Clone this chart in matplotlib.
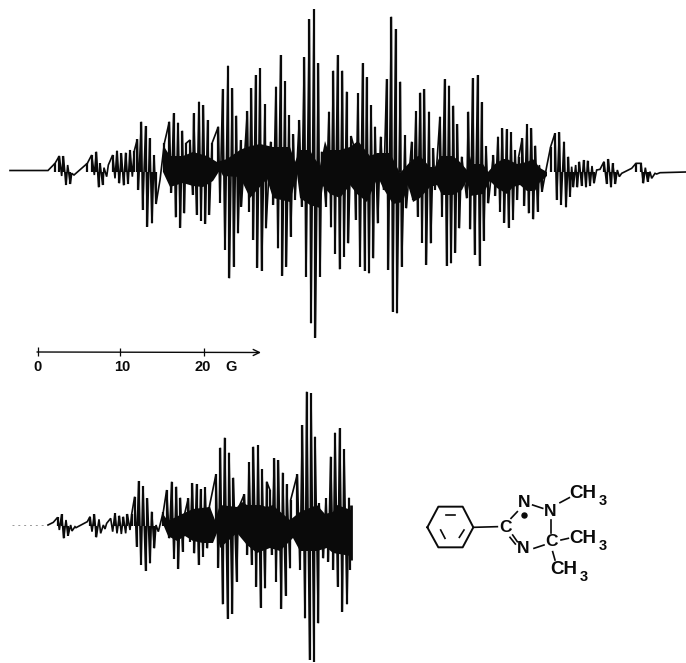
import numpy as np
import matplotlib
matplotlib.use("Agg")
import matplotlib.pyplot as plt

# Readings are in 3x crop coordinates of the traces
UL_TOP_X = [165,178,190,203,215,262,275,289,300,312,325,338,351,364,377,390,403,412,424,437,449,462,493,508,521,534,547,558,570,581,597,610,623,636,655,668,684,697,709,722,742,754,767,780,795,812,828,842,855,867,880,898,913,928,942,955,965,987,1000,1013,1027]
UL_TOP_Y = [490,468,468,495,520,490,465,455,490,503,495,465,452,460,458,450,452,418,365,378,415,465,430,365,340,368,392,430,420,340,305,315,360,430,380,267,197,265,347,420,333,265,225,205,313,425,260,165,243,345,403,360,172,58,28,190,455,335,212,165,212]
UL_BOT_X = [185,198,211,222,283,296,308,320,345,358,371,384,397,415,428,442,456,468,480,514,527,541,553,578,590,603,616,628,660,675,688,701,714,724,747,760,772,785,798,820,834,847,859,872,885,905,918,933,946,960,978,993,1005,1019,1032]
UL_BOT_Y = [528,555,552,525,525,562,555,530,535,550,556,552,530,570,630,680,670,612,540,578,652,683,640,585,645,662,672,645,608,750,835,800,700,620,635,720,803,813,685,615,745,827,800,710,600,620,830,970,1013,830,620,682,762,808,770]

UR_TOP_X = [7,20,33,42,54,68,80,93,105,122,140,154,167,181,195,215,228,241,253,267,280,300,314,327,340,352,365,385,398,413,425,438,460,474,487,500,513,525,536,547,561,574,586,598,620,632,645,658,672,685,695,707,718,731,743,756,770,780,792,805,818,832,845,875,888,903,916,930,945]
UR_TOP_Y = [212,275,408,440,280,190,232,316,380,410,237,50,87,245,405,425,333,278,267,335,445,350,238,257,317,372,470,335,235,225,307,438,465,410,385,388,397,450,470,415,372,385,437,495,500,440,400,397,425,470,500,495,485,480,482,498,510,508,485,477,490,510,520,505,490,490,503,515,520]
UR_BOT_X = [0,12,25,47,60,74,87,100,113,131,145,158,171,185,199,220,233,246,259,272,285,306,320,333,346,358,380,391,404,419,431,445,466,480,493,506,519,532,553,566,580,593,606,650,663,678,690,700,712,725,738,750,762,800,813,826,838,910,923,935,950]
UR_BOT_Y = [805,770,730,660,800,813,820,775,670,570,810,935,940,800,625,600,650,728,795,730,570,650,798,790,758,685,595,688,765,798,722,610,588,635,668,683,660,600,618,640,658,635,575,600,615,622,590,562,562,558,562,558,550,552,562,552,530,550,545,535,522]

L_TOP_X = [160,173,185,198,212,225,262,270,283,297,310,320,332,345,358,370,382,395,404,416,429,442,455,468,490,500,515,529,541,553,565,577,590,602,615,628,648,661,674,687,700,715,733,747,760,774,786,800,810,823,835,848,860,872,892,907,920,933,945,957,978,992,1005,1019,1032,1047]
L_TOP_Y = [412,397,388,405,420,425,410,395,388,403,420,415,400,385,392,395,387,388,335,288,303,340,380,420,380,315,290,305,338,390,340,294,297,313,307,365,268,188,158,203,278,370,328,232,185,180,252,290,315,220,225,263,298,345,268,120,20,25,155,355,340,215,143,130,192,338]
L_BOT_X = [178,191,204,216,228,276,289,302,315,338,351,364,377,390,410,423,437,450,463,475,508,522,535,548,570,583,596,609,622,655,668,683,697,710,742,755,769,782,795,815,828,844,857,870,900,915,929,942,955,970,985,1000,1013,1027,1041,1050]
L_BOT_Y = [435,460,452,438,428,440,457,445,432,440,445,447,445,435,485,540,558,535,490,440,460,522,552,500,470,505,540,515,490,548,658,702,687,590,510,540,605,668,610,510,590,672,632,550,555,700,825,830,715,520,530,555,605,680,658,555]

# Dense central ink of each trace: upper and lower edge, in image pixels
CORE_U_TOP_X = [163,165,170,183,193,207,217,227,240,247,260,273,290,295,300,310,313,320,325,328,340,350,358,370,377,380,387,390,400,410,418,420,430,435,440,453,460,467,470,472,483,488,495,503,507,517,527,533,540,547]
CORE_U_TOP_Y = [170,148,156,156,152,156,162,159,150,147,144,147,147,162,150,150,156,166,141,150,150,147,141,156,153,153,153,153,173,162,156,156,167,167,156,156,162,170,156,164,164,172,164,159,159,164,162,159,168,172]
CORE_U_BOT_X = [163,170,183,193,203,213,220,223,240,250,267,273,290,297,300,310,320,323,330,340,350,357,367,378,383,393,403,408,413,420,430,437,442,453,462,467,470,483,490,497,507,513,520,527,535,540,547]
CORE_U_BOT_Y = [172,187,183,186,187,181,170,176,177,198,179,198,202,174,198,205,208,186,194,198,185,194,202,177,188,204,202,185,202,198,187,185,195,195,190,180,196,194,181,188,194,187,185,191,191,182,176]
CORE_L_TOP_X = [163,168,180,193,210,215,220,237,242,247,260,267,273,277,290,300,317,325,333,337,351]
CORE_L_TOP_Y = [514,521,515,509,507,520,505,507,502,505,505,507,505,509,520,512,505,514,512,505,510]
CORE_L_BOT_X = [163,168,177,185,193,203,213,217,220,237,247,257,270,280,293,300,317,327,333,351]
CORE_L_BOT_Y = [524,536,541,536,541,543,543,533,548,533,545,553,548,551,538,551,551,548,553,556]

FLAT_L_X = [10, 30, 48]
FLAT_L_Y = [170.5, 170.5, 170.5]
FLAT_R_X = [660, 675, 686]
FLAT_R_Y = [172.7, 172.3, 172.0]
LOW_FLAT_X = [48]
LOW_FLAT_Y = [525]
LOW_END_Y = [505, 560]

SCALE_TICK_LABELS = ["0", "10", "20"]
SCALE_TICK_X = [38, 120, 204]
SCALE_LABEL_X = [38, 122, 203]


def px(x, y, x0=0, y0=0):
    return x0 + np.asarray(x) / 3.0, y0 + np.asarray(y) / 3.0


fig = plt.figure(figsize=(6.86, 6.63), dpi=100)
ax = fig.add_axes([0, 0, 1, 1])
ax.set_xlim(0, 686)
ax.set_ylim(663, 0)
ax.axis("off")
INK = "#0a0a0a"


def trace(xt, yt, xb, yb, centre, head_x, head_y, tail_x, tail_y):
    x = np.concatenate([xt, xb])
    y = np.concatenate([yt, yb])
    o = np.argsort(x)
    xs = np.r_[head_x, x[o], tail_x]
    ys = np.r_[head_y, y[o], tail_y]
    ax.plot(xs, ys, color=INK, lw=1.2, solid_joinstyle="miter")
    big_t = yt < centre - 8
    big_b = yb > centre + 8
    ax.vlines(xt[big_t], yt[big_t], centre, color=INK, lw=1.6)
    ax.vlines(xb[big_b], centre, yb[big_b], color=INK, lw=1.6)


def core(tx, ty, bx, by):
    tx, ty, bx, by = map(np.asarray, (tx, ty, bx, by))
    t = np.argsort(tx, kind="stable")
    b = np.argsort(bx, kind="stable")
    ax.fill(np.r_[tx[t], bx[b][::-1]], np.r_[ty[t], by[b][::-1]], color=INK, lw=0)


# upper spectrum
xt1, yt1 = px(UL_TOP_X, UL_TOP_Y)
xb1, yb1 = px(UL_BOT_X, UL_BOT_Y)
xt2, yt2 = px(UR_TOP_X, UR_TOP_Y, 340)
xb2, yb2 = px(UR_BOT_X, UR_BOT_Y, 340)
trace(np.r_[xt1, xt2[xt2 > xt1[-1]]], np.r_[yt1, yt2[xt2 > xt1[-1]]],
      np.r_[xb1, xb2[xb2 > xb1[-1]]], np.r_[yb1, yb2[xb2 > xb1[-1]]],
      172, FLAT_L_X, FLAT_L_Y, FLAT_R_X, FLAT_R_Y)
core(CORE_U_TOP_X, CORE_U_TOP_Y, CORE_U_BOT_X, CORE_U_BOT_Y)

# lower spectrum
xt, yt = px(L_TOP_X, L_TOP_Y, 0, 385)
xb, yb = px(L_BOT_X, L_BOT_Y, 0, 385)
trace(xt, yt, xb, yb, 526, LOW_FLAT_X, LOW_FLAT_Y, [351], [525])
core(CORE_L_TOP_X, CORE_L_TOP_Y, CORE_L_BOT_X, CORE_L_BOT_Y)
ax.vlines(350.5, LOW_END_Y[0], LOW_END_Y[1], color=INK, lw=2)
ax.plot([12, 47], [525, 525], color="#999999", lw=0.7, ls=(0, (2, 4)))

# field scale
ax.annotate("", xy=(261, 352.5), xytext=(37, 352),
            arrowprops=dict(arrowstyle="->,head_length=0.45,head_width=0.22", color=INK, lw=1.0, shrinkA=0, shrinkB=0))
ax.vlines(SCALE_TICK_X, [347, 348, 348], [356, 356, 356], color=INK, lw=0.9)
FONT = dict(family="Liberation Sans", color=INK, ha="center", va="center", fontweight="bold")
for lab, x in zip(SCALE_TICK_LABELS, SCALE_LABEL_X):
    ax.text(x, 367, lab, fontsize=10.5, **FONT)
ax.text(231, 367, "G", fontsize=10.5, **FONT)

# structure
mol = lambda zx, zy: (410 + zx / 3.0, 450 + zy / 3.0)
ring = [(52,232),(85,170),(158,170),(190,232),(158,292),(85,292),(52,232)]
rx, ry = zip(*[mol(*p) for p in ring])
ax.plot(rx, ry, color=INK, lw=1.4, solid_joinstyle="round")
bonds = [((108,195),(135,195)),((92,240),(105,265)),((148,262),(162,240)),
         ((190,232),(262,230)),((303,205),(322,185)),((368,165),(398,175)),
         ((308,255),(322,275)),((300,262),(316,282)),((372,295),(402,285)),
         ((422,210),(422,250)),((450,158),(478,143)),((453,270),(475,265)),
         ((428,305),(435,330))]
for a, b in bonds:
    (x0, y0), (x1, y1) = mol(*a), mol(*b)
    ax.plot([x0, x1], [y0, y1], color=INK, lw=1.2)
ax.plot(*mol(342, 195), "o", color=INK, ms=3.6)
for s, zx, zy in [("N",342,157),("N",420,183),("C",285,232),("C",423,275),("N",340,295)]:
    ax.text(*mol(zx, zy), s, fontsize=12.5, **FONT)
for cx_, zy, dx in [(518,130,59),(518,265,59),(460,360,62)]:
    ax.text(*mol(cx_, zy), "CH", fontsize=13.5, **FONT)
    ax.text(*mol(cx_ + dx, zy + 22), "3", fontsize=10.5, **FONT)

fig.savefig("out.png", dpi=100, facecolor="white")
